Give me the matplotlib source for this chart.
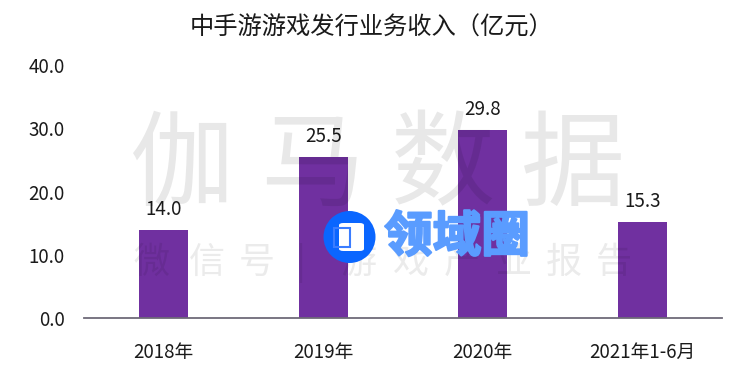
import matplotlib
matplotlib.use("Agg")
import matplotlib.pyplot as plt
from matplotlib.patches import Ellipse, FancyBboxPatch, Rectangle
from matplotlib.transforms import Affine2D
import matplotlib.patheffects as pe

plt.rcParams['font.family'] = ['Noto Sans CJK SC', 'DejaVu Sans']

categories = ["2018年", "2019年", "2020年", "2021年1-6月"]
values = [14.0, 25.5, 29.8, 15.3]
yticks = [0, 10, 20, 30, 40]
title = "中手游游戏发行业务收入（亿元）"

bar_color = "#7030A0"

fig = plt.figure(figsize=(7.5, 3.74), dpi=100)
ax = fig.add_axes([0.112, 0.1484, 0.8507, 0.6778])

x = list(range(len(categories)))
bars = ax.bar(x, values, width=0.31, color=bar_color, zorder=2)
ax.set_xlim(-0.5, len(categories) - 0.5)
ax.set_ylim(0, 40)
ax.set_yticks(yticks)
ax.set_yticklabels([f"{v:.1f}" for v in yticks])
ax.set_xticks(x)
ax.set_xticklabels(categories)
ax.tick_params(axis='both', length=0, labelsize=13.5, colors='#1a1a1a')
ax.tick_params(axis='y', pad=14)
ax.tick_params(axis='x', pad=17)
for s in ['top', 'right', 'left']:
    ax.spines[s].set_visible(False)
ax.spines['bottom'].set_color('#6e6a78')
ax.spines['bottom'].set_linewidth(1.3)

for xi, v in zip(x, values):
    ax.annotate(f"{v:.1f}", (xi, v), xytext=(0, 7), textcoords='offset points',
                ha='center', va='bottom', fontsize=13.5, color='#1a1a1a', zorder=5)

fig.text(0.495, 1 - 28 / 374, title, ha='center', va='center', fontsize=17.5, color='#1a1a1a')

# watermark
W, H = 750.0, 374.0
for ch, cx in zip("伽马数据", [182, 312, 443, 573]):
    fig.text(cx / W, 1 - 168 / H, ch, ha='center', va='center', fontsize=75,
             color='black', alpha=0.09, fontweight='light', zorder=10)
small = ["微", "信", "号", "|", "游", "戏", "产", "业", "报", "告"]
sx = [152, 207, 257, 300, 359, 410, 462, 514, 564, 614]
for ch, cx in zip(small, sx):
    fig.text(cx / W, 1 - 263 / H, ch, ha='center', va='center', fontsize=26,
             color='black', alpha=0.08, fontweight='light', zorder=10)

# logo
circ = Ellipse((349.5 / W, 1 - 237 / H), 52 / W, 52 / H, transform=fig.transFigure,
               facecolor='#0a66ff', edgecolor='none', zorder=20)
fig.patches.append(circ)
sq = FancyBboxPatch((339 / W, 1 - 251 / H), 25 / W, 28 / H,
                    boxstyle="round,pad=0,rounding_size=0.006",
                    transform=fig.transFigure, facecolor='white', edgecolor='none', zorder=21)
fig.patches.append(sq)
sq2 = Rectangle((334 / W, 1 - 247 / H), 16 / W, 19 / H, transform=fig.transFigure,
                facecolor='none', edgecolor='#3b7dff', linewidth=1.5, zorder=22)
fig.patches.append(sq2)
fig.text(457 / W, 1 - 237 / H, "领域圈", ha='center', va='center', fontsize=35,
         fontweight='black', color='#5a9cff', zorder=23,
         path_effects=[pe.withStroke(linewidth=1.5, foreground='#5a9cff')])

fig.savefig("out.png", dpi=100)
